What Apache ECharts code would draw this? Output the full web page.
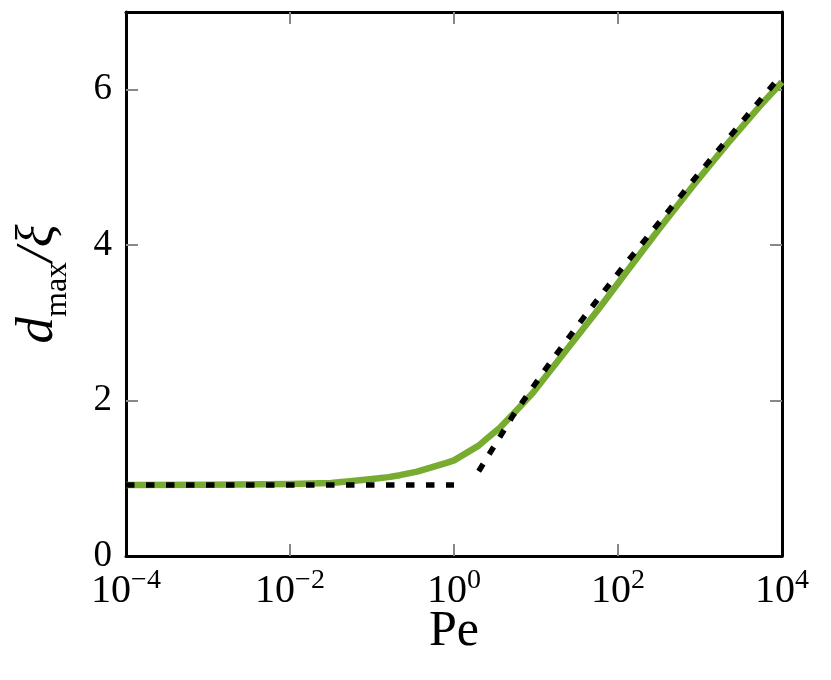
<!DOCTYPE html>
<html><head><meta charset="utf-8">
<script src="https://cdn.jsdelivr.net/npm/echarts@6/dist/echarts.min.js"></script>
<style>html,body{margin:0;padding:0;background:#fff}#c{width:831px;height:680px}</style>
</head><body><div id="c"></div>
<script>
// Green curve: d_max/xi versus Pe
const curvePe = [0.0001, 0.001, 0.01, 0.0316, 0.0537, 0.1, 0.158, 0.219, 0.355, 0.555, 0.794, 1, 1.44, 2.0, 2.51, 3.63, 5.62, 9.18, 14.8, 23.9, 60.3, 128, 324, 832, 2138, 5370, 10000];
const curveD  = [0.915, 0.918, 0.925, 0.94, 0.962, 0.99, 1.015, 1.04, 1.085, 1.147, 1.195, 1.23, 1.33, 1.42, 1.51, 1.65, 1.86, 2.10, 2.38, 2.66, 3.20, 3.66, 4.22, 4.77, 5.30, 5.79, 6.10];
// Dotted asymptote at small Pe
const flatPe = [0.0001, 1];
const flatD  = [0.915, 0.915];
// Dotted asymptote at large Pe
const asymPe = [2.0, 5.28, 14.1, 38.5, 109, 319, 938, 2748, 8222, 10000];
const asymD  = [1.09, 1.812, 2.454, 3.075, 3.688, 4.295, 4.904, 5.495, 6.094, 6.20];
// Ticks
const xTickValues = [0.0001, 0.01, 1, 100, 10000];
const xTickExps   = ['−4', '−2', '0', '2', '4'];
const xInnerTicks = [0.01, 1, 100];
const yTickValues = [0, 2, 4, 6];
const yInnerTicks = [2, 4, 6];

const SERIF = '"Liberation Serif", "DejaVu Serif", serif';
const GREEN = '#77ac30';
const TICK = { show: true, inside: true, length: 12, lineStyle: { color: '#888888', width: 2 } };
const FRAME = { show: true, onZero: false, lineStyle: { color: '#000', width: 3 } };

function pairs(xs, ys) { return xs.map((x, i) => [x, ys[i]]); }

const chart = echarts.init(document.getElementById('c'), null, { renderer: 'canvas' });
chart.setOption({
  animation: false,
  backgroundColor: '#fff',
  grid: { left: 126, right: 49, top: 12, bottom: 124, containLabel: false },
  xAxis: [{
    type: 'log', logBase: 10, min: 0.0001, max: 10000,
    position: 'bottom',
    axisLine: FRAME,
    axisTick: Object.assign({ customValues: xInnerTicks }, TICK),
    splitLine: { show: false },
    minorTick: { show: false },
    axisLabel: {
      customValues: xTickValues,
      margin: 11,
      formatter: function (v) {
        let i = xTickValues.findIndex(t => Math.abs(Math.log10(t) - Math.log10(v)) < 1e-6);
        if (i < 0) return '';
        return '{b|10}{s|' + xTickExps[i] + '}';
      },
      rich: {
        b: { fontFamily: SERIF, fontSize: 40, color: '#000', lineHeight: 44, verticalAlign: 'bottom' },
        s: { fontFamily: SERIF, fontSize: 28, color: '#000', lineHeight: 44, verticalAlign: 'top' }
      }
    },
    name: 'Pe', nameLocation: 'middle', nameGap: 51, nameMoveOverlap: false,
    nameTextStyle: { fontFamily: SERIF, fontSize: 50, color: '#000' }
  }, {
    type: 'log', logBase: 10, min: 0.0001, max: 10000,
    position: 'top',
    axisLine: FRAME,
    axisTick: Object.assign({ customValues: xInnerTicks }, TICK),
    axisLabel: { show: false },
    splitLine: { show: false }
  }],
  yAxis: [{
    type: 'value', min: 0, max: 7,
    position: 'left',
    axisLine: FRAME,
    axisTick: Object.assign({ customValues: yInnerTicks }, TICK),
    splitLine: { show: false },
    axisLabel: {
      customValues: yTickValues,
      margin: 14,
      fontFamily: SERIF, fontSize: 37, color: '#000'
    },
    name: '{d|d}{m|max}{x|/ξ}',
    nameLocation: 'middle', nameGap: 52, nameRotate: 90,
    nameTextStyle: {
      rich: {
        d: { fontFamily: SERIF, fontStyle: 'italic', fontSize: 53, color: '#000', lineHeight: 62, verticalAlign: 'top' },
        m: { fontFamily: SERIF, fontSize: 32, color: '#000', lineHeight: 62, verticalAlign: 'bottom' },
        x: { fontFamily: SERIF, fontStyle: 'italic', fontSize: 53, color: '#000', lineHeight: 62, verticalAlign: 'top' }
      }
    }
  }, {
    type: 'value', min: 0, max: 7,
    position: 'right',
    axisLine: FRAME,
    axisTick: Object.assign({ customValues: yInnerTicks }, TICK),
    axisLabel: { show: false },
    splitLine: { show: false }
  }],
  series: [{
    type: 'line', name: 'curve', xAxisIndex: 0, yAxisIndex: 0,
    data: pairs(curvePe, curveD),
    smooth: false,
    showSymbol: false, symbol: 'none',
    lineStyle: { color: GREEN, width: 6.5, join: 'round' },
    z: 2
  }, {
    type: 'line', name: 'flat', xAxisIndex: 0, yAxisIndex: 0,
    data: pairs(flatPe, flatD),
    showSymbol: false, symbol: 'none',
    lineStyle: { color: '#000', width: 5.5, type: [8.5, 11.5], cap: 'butt' },
    z: 3
  }, {
    type: 'line', name: 'asym', xAxisIndex: 0, yAxisIndex: 0,
    data: pairs(asymPe, asymD),
    smooth: false,
    showSymbol: false, symbol: 'none',
    lineStyle: { color: '#000', width: 5.5, type: [8.5, 11.5], cap: 'butt' },
    z: 3
  }]
});
</script>
</body></html>
